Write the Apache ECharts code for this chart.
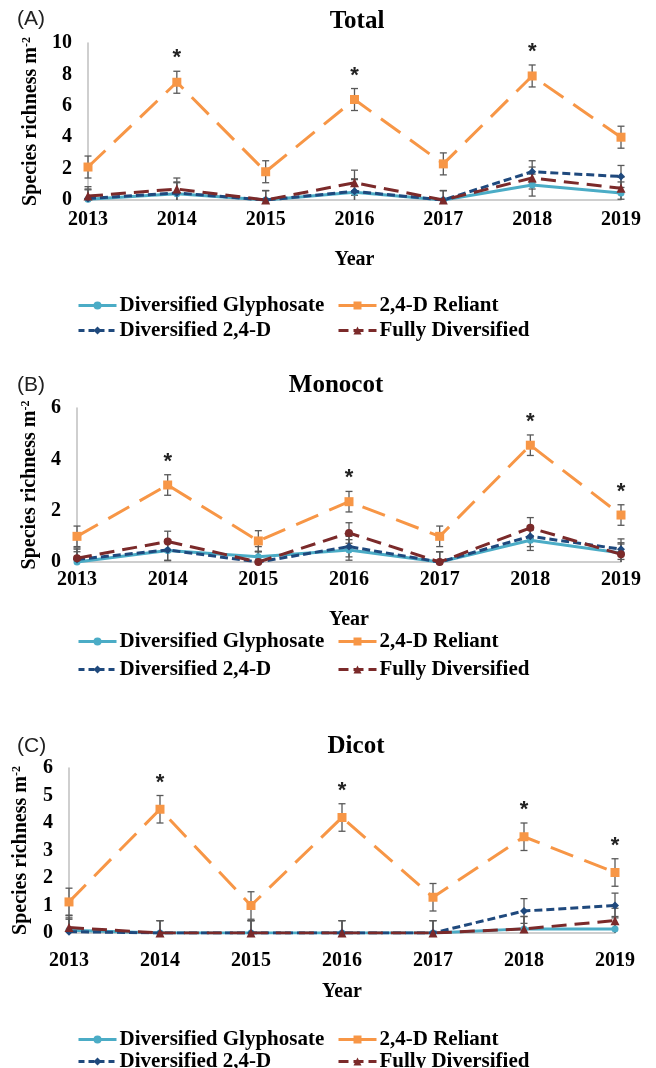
<!DOCTYPE html>
<html>
<head>
<meta charset="utf-8">
<script src="https://cdn.jsdelivr.net/npm/echarts@6/dist/echarts.min.js"></script>
<style>
html, body { margin: 0; padding: 0; background: #fff; }
#chart { width: 656px; height: 1068px; }
</style>
</head>
<body>
<div id="chart"></div>
<script>
// years on the x axis
var years = ['2013', '2014', '2015', '2016', '2017', '2018', '2019'];
var seriesNames = ['Diversified Glyphosate', '2,4-D Reliant', 'Diversified 2,4-D', 'Fully Diversified'];

// (A) Total
var totalGly = [0.05, 0.4, 0.0, 0.5, 0.0, 0.95, 0.45];
var totalRel = [2.1, 7.5, 1.8, 6.4, 2.3, 7.9, 4.0];
var totalD24 = [0.1, 0.45, 0.0, 0.55, 0.0, 1.8, 1.5];
var totalFull = [0.25, 0.7, 0.0, 1.1, 0.0, 1.4, 0.75];
var totalRelErr = [0.7, 0.7, 0.7, 0.7, 0.7, 0.7, 0.7];
var totalLowErr = [0.6, 0.7, 0.6, 0.8, 0.6, 0.7, 0.7];
var totalSig = [0, 1, 0, 1, 0, 1, 0];

// (B) Monocot
var monoGly = [0.0, 0.45, 0.2, 0.47, 0.0, 0.85, 0.35];
var monoRel = [1.0, 3.0, 0.82, 2.35, 1.0, 4.55, 1.83];
var monoD24 = [0.1, 0.47, 0.0, 0.6, 0.0, 1.0, 0.5];
var monoFull = [0.15, 0.8, 0.0, 1.13, 0.0, 1.33, 0.3];
var monoRelErr = [0.4, 0.4, 0.4, 0.4, 0.4, 0.4, 0.4];
var monoLowErr = [0.4, 0.4, 0.4, 0.4, 0.4, 0.4, 0.4];
var monoSig = [0, 1, 0, 1, 0, 1, 1];

// (C) Dicot
var dicotGly = [0.1, 0.0, 0.0, 0.0, 0.0, 0.15, 0.15];
var dicotRel = [1.13, 4.5, 1.0, 4.2, 1.3, 3.5, 2.2];
var dicotD24 = [0.05, 0.0, 0.0, 0.0, 0.0, 0.8, 1.0];
var dicotFull = [0.2, 0.0, 0.0, 0.0, 0.0, 0.15, 0.45];
var dicotRelErr = [0.5, 0.5, 0.5, 0.5, 0.5, 0.5, 0.5];
var dicotLowErr = [0.45, 0.45, 0.45, 0.45, 0.45, 0.45, 0.45];
var dicotSig = [0, 1, 0, 1, 0, 1, 1];

var colors = ['#4BACC6', '#F79646', '#1F497D', '#7B2A2A'];
var dashes = ['solid', [24, 12], [8, 4], [15, 8]];
var legendDashes = ['solid', 'solid', [6, 4], [10, 5]];
var serif = 'Liberation Serif';

// 面板布局
var panels = [
    { tag: '(A)', title: 'Total', titleX: 352, tagY: 4, titleY: 4,
      grid: { left: 88, right: 35, top: 43, height: 157 },
      max: 10, interval: 2, nameGap: 46, yearGap: 50, labelMargin: 10,
      legendY: [290, 315], fullSymbol: 'triangle',
      data: [totalGly, totalRel, totalD24, totalFull],
      relErr: totalRelErr, lowErr: totalLowErr, sig: totalSig },
    { tag: '(B)', title: 'Monocot', titleX: 331, tagY: 370, titleY: 368,
      grid: { left: 77, right: 35, top: 408, height: 154 },
      max: 6, interval: 2, nameGap: 35, yearGap: 48, labelMargin: 8,
      legendY: [626, 654], fullSymbol: 'circle',
      data: [monoGly, monoRel, monoD24, monoFull],
      relErr: monoRelErr, lowErr: monoLowErr, sig: monoSig },
    { tag: '(C)', title: 'Dicot', titleX: 351, tagY: 731, titleY: 729,
      grid: { left: 69, right: 41, top: 768, height: 165 },
      max: 6, interval: 1, nameGap: 38, yearGap: 49, labelMargin: 18,
      legendY: [1024, 1046], fullSymbol: 'triangle',
      data: [dicotGly, dicotRel, dicotD24, dicotFull],
      relErr: dicotRelErr, lowErr: dicotLowErr, sig: dicotSig }
];

function errRender(params, api) {
    var x = api.value(0), v = api.value(1), e = api.value(2);
    var lo = Math.max(0, v - e);
    var top = api.coord([x, v + e]);
    var bot = api.coord([x, lo]);
    var cap = 3.5;
    var style = { stroke: '#595959', lineWidth: 1.3 };
    var children = [
        { type: 'line', shape: { x1: top[0], y1: top[1], x2: bot[0], y2: bot[1] }, style: style },
        { type: 'line', shape: { x1: top[0] - cap, y1: top[1], x2: top[0] + cap, y2: top[1] }, style: style }
    ];
    if (v - e > 0) {
        children.push({ type: 'line', shape: { x1: bot[0] - cap, y1: bot[1], x2: bot[0] + cap, y2: bot[1] }, style: style });
    }
    return { type: 'group', children: children };
}

function starRender(params, api) {
    var pt = api.coord([api.value(0), api.value(1)]);
    return {
        type: 'text', x: pt[0], y: pt[1] - 13,
        style: { text: '*', font: 'bold 22px "Liberation Sans"', fill: '#222', align: 'center', verticalAlign: 'middle' }
    };
}

var option = { animation: false, title: [], grid: [], xAxis: [], yAxis: [], legend: [], series: [] };

panels.forEach(function (p, k) {
    option.title.push({ text: p.tag, left: 12, top: p.tagY,
        textStyle: { fontFamily: 'Liberation Sans', fontWeight: 'normal', fontSize: 21, color: '#222' } });
    option.title.push({ text: p.title, left: p.titleX, top: p.titleY, textAlign: 'center',
        textStyle: { fontFamily: serif, fontWeight: 'bold', fontSize: 25, color: '#000' } });
    option.grid.push(p.grid);
    option.xAxis.push({
        type: 'category', gridIndex: k, data: years, boundaryGap: false,
        name: 'Year', nameLocation: 'middle', nameGap: p.yearGap,
        nameTextStyle: { fontFamily: serif, fontWeight: 'bold', fontSize: 20, color: '#000' },
        axisLine: { lineStyle: { color: '#BFBFBF', width: 1.5 } },
        axisTick: { show: false },
        axisLabel: { margin: p.labelMargin, fontFamily: serif, fontWeight: 'bold', fontSize: 20, color: '#000' }
    });
    option.yAxis.push({
        type: 'value', gridIndex: k, min: 0, max: p.max, interval: p.interval,
        name: 'Species richness m{sup|-2}', nameLocation: 'middle', nameRotate: 90, nameGap: p.nameGap,
        nameTextStyle: { fontFamily: serif, fontWeight: 'bold', fontSize: 20, color: '#000',
            rich: { sup: { fontFamily: serif, fontWeight: 'bold', fontSize: 12, color: '#000', verticalAlign: 'top', padding: [0, 0, 8, 0] } } },
        axisLine: { show: true, lineStyle: { color: '#BFBFBF', width: 1.5 } },
        axisTick: { show: false },
        splitLine: { show: false },
        axisLabel: { margin: 16, fontFamily: serif, fontWeight: 'bold', fontSize: 20, color: '#000' }
    });
    // legend: two columns, two rows
    var cols = [72, 332];
    seriesNames.forEach(function (nm, j) {
        option.legend.push({
            data: [nm], left: cols[j % 2], top: p.legendY[Math.floor(j / 2)],
            itemWidth: 38, itemHeight: 10, itemGap: 0, selectedMode: false,
            lineStyle: { width: 3, type: legendDashes[j] },
            textStyle: { fontFamily: serif, fontWeight: 'bold', fontSize: 21, color: '#000', padding: [0, 0, 0, -2] }
        });
    });
    var symbols = ['circle', 'rect', 'diamond', p.fullSymbol];
    var sizes = [7, 9, 8, p.fullSymbol === 'circle' ? 8 : 9];
    var errs = [p.lowErr, p.relErr, p.lowErr, p.lowErr];
    seriesNames.forEach(function (nm, j) {
        option.series.push({
            type: 'custom', xAxisIndex: k, yAxisIndex: k, z: 1, silent: true,
            renderItem: errRender, encode: { x: 0, y: 1 },
            data: p.data[j].map(function (v, i) { return [i, v, errs[j][i]]; })
        });
    });
    seriesNames.forEach(function (nm, j) {
        option.series.push({
            type: 'line', name: nm, xAxisIndex: k, yAxisIndex: k, z: 3 + j,
            data: p.data[j], symbol: symbols[j], symbolSize: sizes[j], showSymbol: true,
            lineStyle: { color: colors[j], width: 3, type: dashes[j] },
            itemStyle: { color: colors[j] }
        });
    });
    var stars = [];
    p.sig.forEach(function (s, i) { if (s) stars.push([i, p.data[1][i] + p.relErr[i]]); });
    option.series.push({
        type: 'custom', xAxisIndex: k, yAxisIndex: k, z: 10, silent: true,
        renderItem: starRender, encode: { x: 0, y: 1 }, data: stars, clip: false
    });
});

var myChart = echarts.init(document.getElementById('chart'));
myChart.setOption(option);
</script>
</body>
</html>
